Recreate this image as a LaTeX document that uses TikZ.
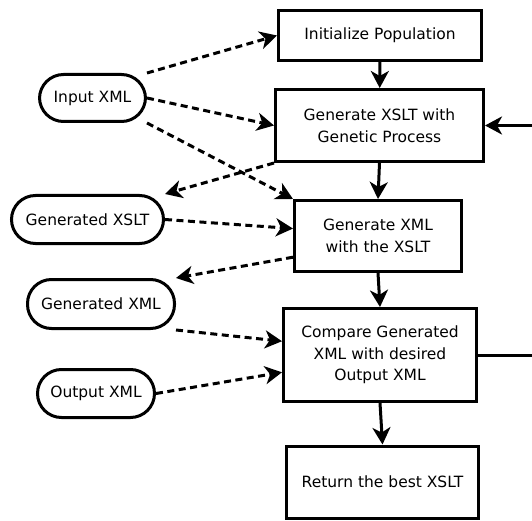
\documentclass[tikz,border=0pt]{standalone}
\usepackage{fontspec}
\setmainfont{DejaVu Sans}
\usetikzlibrary{arrows.meta}
\begin{document}
\begin{tikzpicture}[x=1pt,y=-1pt,
  font=\fontsize{15.5}{21.5}\selectfont,
  box/.style={draw,line width=3pt,rectangle,align=center,inner sep=0pt},
  pill/.style={draw,line width=3pt,rounded corners=24pt,align=center,inner sep=0pt},
  tip/.style={-{Stealth[length=17pt,width=18pt,inset=5pt]}},
  flow/.style={tip,line width=3pt},
  data/.style={tip,line width=3pt,dash pattern=on 7pt off 4.5pt}]
\useasboundingbox (0,0) rectangle (532,521);
\node[box,minimum width=203pt,minimum height=50pt] (init) at (380,35.5) {Initialize Population};
\node[box,minimum width=208pt,minimum height=72pt] (gxslt) at (379.5,125.5) {Generate XSLT with\\Genetic Process};
\node[box,minimum width=167pt,minimum height=71pt] (gxml) at (378,236) {Generate XML\\with the XSLT};
\node[box,minimum width=193pt,minimum height=93pt] (comp) at (380,355) {Compare Generated\\XML with desired\\Output XML};
\node[box,minimum width=192pt,minimum height=72pt] (ret) at (382.5,482) {Return the best XSLT};
\node[pill,minimum width=106pt,minimum height=47pt] (inx) at (92.5,98) {Input XML};
\node[pill,minimum width=152pt,minimum height=48pt] (gxs) at (87.5,219.5) {Generated XSLT};
\node[pill,minimum width=147pt,minimum height=49pt] (gxm) at (101,304) {Generated XML};
\node[pill,minimum width=117pt,minimum height=48pt] (outx) at (96,393.5) {Output XML};
\coordinate (cr) at (545,355);
% solid flow
\draw[flow] (init) -- (gxslt);
\draw[flow] (gxslt.south) -- (gxml.north);
\draw[flow] (gxml.south) -- (comp.north);
\draw[flow] (comp.south) -- (ret.north);
\draw[flow] (comp.east) -- (cr) -- (cr |- gxslt.east) -- (gxslt.east);
% dashed data
\draw[data] (inx.north east) -- (init.west);
\draw[data] (inx.east) -- (gxslt.west);
\draw[data] (inx.south east) -- (gxml.north west);
\draw[data] (gxslt.south west) -- (gxs.north east);
\draw[data] (gxs.east) -- (gxml.175);
\draw[data] (gxml.194) -- (gxm.north east);
\draw[data] (gxm.south east) -- (comp.172.6);
\draw[data] (outx.east) -- (comp.190.4);
\end{tikzpicture}
\end{document}
